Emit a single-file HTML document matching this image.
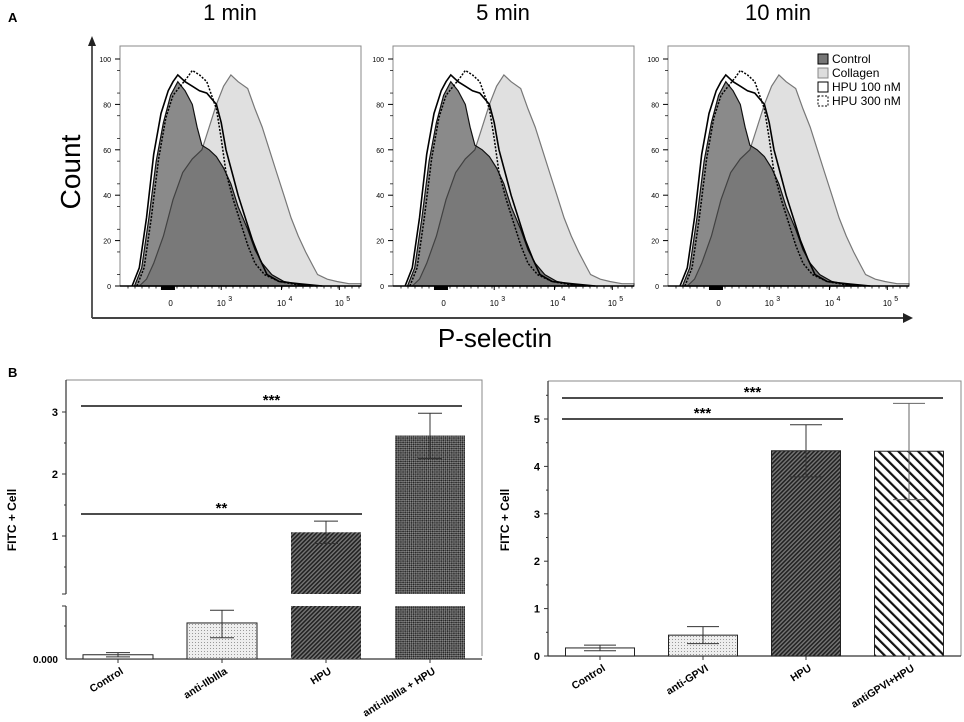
<!DOCTYPE html>
<html><head><meta charset="utf-8">
<style>
html,body{margin:0;padding:0;background:#fff;}
svg{display:block;font-family:"Liberation Sans",Arial,sans-serif;}
</style></head>
<body>
<svg id="fig" width="964" height="722" viewBox="0 0 964 722" xmlns="http://www.w3.org/2000/svg">
<defs>
<pattern id="dots" width="3" height="3" patternUnits="userSpaceOnUse"><rect width="3" height="3" fill="#eee"/><rect width="1" height="1" fill="#999"/></pattern>
<pattern id="dense" width="3" height="3" patternUnits="userSpaceOnUse" patternTransform="rotate(45)"><rect width="3" height="3" fill="#777"/><rect width="1.6" height="3" fill="#222"/></pattern>
<pattern id="check" width="3" height="3" patternUnits="userSpaceOnUse" patternTransform="rotate(45)"><rect width="3" height="3" fill="#888"/><rect width="1.5" height="1.5" fill="#222"/><rect x="1.5" y="1.5" width="1.5" height="1.5" fill="#333"/></pattern>
<pattern id="sparse" width="7" height="7" patternUnits="userSpaceOnUse" patternTransform="rotate(-45)"><rect width="7" height="7" fill="#fff"/><rect width="2.2" height="7" fill="#111"/></pattern>
</defs>
<g id="panelA"></g>
<g id="panelB"></g>
</svg>
<script>
// ---------- Panel A data (x = fraction of plot width on logicle scale, y = count) ----------
const timeTitles = ["1 min","5 min","10 min"];
const xTickLabels = ["0","10","10","10"];
const xTickExps = ["","3","4","5"];
const xTickPos = [0.21,0.42,0.67,0.91];
const yTicksA = [0,20,40,60,80,100];
const controlX = [0.06,0.09,0.12,0.15,0.18,0.21,0.24,0.27,0.30,0.32,0.34,0.37,0.40,0.43,0.46,0.49,0.53,0.56,0.59,0.63,0.68,0.75,0.80];
const controlY = [0,8,30,55,72,84,90,86,80,70,62,60,57,52,45,35,25,16,10,5,2,0.5,0];
const collagenX = [0.08,0.11,0.14,0.18,0.22,0.26,0.30,0.34,0.37,0.40,0.43,0.46,0.49,0.53,0.56,0.59,0.62,0.65,0.68,0.71,0.74,0.77,0.80,0.82,0.86,0.90,0.95,1.0];
const collagenY = [0,3,10,22,38,50,56,60,70,80,88,93,90,87,78,70,60,50,40,30,22,15,9,5,3,2,1,1];
const hpu100X = [0.05,0.08,0.11,0.14,0.17,0.20,0.22,0.24,0.27,0.30,0.33,0.36,0.40,0.42,0.44,0.47,0.49,0.52,0.55,0.58,0.61,0.66,0.74,0.84];
const hpu100Y = [0,8,30,58,76,86,90,93,90,88,86,85,80,72,60,48,40,30,20,12,5,2,1,0];
const hpu300X = [0.07,0.10,0.13,0.16,0.19,0.22,0.25,0.28,0.30,0.33,0.36,0.40,0.42,0.44,0.47,0.50,0.53,0.56,0.60,0.66,0.74,0.82];
const hpu300Y = [0,8,30,56,74,84,88,92,95,93,90,78,65,50,38,28,18,10,5,2,0.5,0];

const NS="http://www.w3.org/2000/svg";
function el(tag,attrs,parent){const e=document.createElementNS(NS,tag);for(const k in attrs)e.setAttribute(k,attrs[k]);parent.appendChild(e);return e;}

const A=document.getElementById('panelA');
const panelsX=[120,393,668], pw=241, pTop=46, pBot=286;
const letterA=el('text',{x:8,y:22,'font-size':13,'font-weight':'bold'},A);letterA.textContent='A';


const ya=el('line',{x1:92,y1:318,x2:92,y2:44,stroke:'#222','stroke-width':1.5},A);


el('path',{d:'M88,46 L92,36 L96,46 Z',fill:'#222'},A);
const xa=el('line',{x1:92,y1:318,x2:905,y2:318,stroke:'#444','stroke-width':2},A);


el('path',{d:'M903,313 L913,318 L903,323 Z',fill:'#222'},A);
const ct=el('text',{x:0,y:0,'font-size':28,'text-anchor':'middle',transform:'translate(80,172) rotate(-90)'},A);ct.textContent='Count';


const pt=el('text',{x:495,y:347,'font-size':26,'text-anchor':'middle'},A);pt.textContent='P-selectin';



function pathFor(xs,ys,x0,sy,closed){
  let d='';
  xs.forEach((x,i)=>{d+=(i?'L':'M')+(x0+x*pw).toFixed(1)+','+sy(ys[i]).toFixed(1);});
  if(closed)d+='L'+(x0+xs[xs.length-1]*pw).toFixed(1)+','+pBot+'L'+(x0+xs[0]*pw).toFixed(1)+','+pBot+'Z';
  return d;
}
panelsX.forEach((x0,p)=>{
  const g=el('g',{},A);
  
  
  const sy=v=>pBot-(v/100)*(pBot-59);
  const t=el('text',{x:x0+110,y:20,'font-size':22,'text-anchor':'middle'},g);t.textContent=timeTitles[p];
  
  
  el('rect',{x:x0,y:pTop,width:pw,height:pBot-pTop,fill:'#fff',stroke:'#888','stroke-width':1},g);
  const cf=el('path',{d:pathFor(controlX,controlY,x0,sy,true),fill:'#8a8a8a',stroke:'#111','stroke-width':1.2},g);
  
  
  const cl=el('path',{d:pathFor(collagenX,collagenY,x0,sy,true),fill:'#e0e0e0',stroke:'#777','stroke-width':1.2,style:'mix-blend-mode:multiply'},g);
  
  
  const h1=el('path',{d:pathFor(hpu100X,hpu100Y,x0,sy,false),fill:'none',stroke:'#000','stroke-width':1.6},g);
  
  
  const h3=el('path',{d:pathFor(hpu300X,hpu300Y,x0,sy,false),fill:'none',stroke:'#000','stroke-width':1.5,'stroke-dasharray':'2,1.5'},g);
  
  
  el('line',{x1:x0,y1:pBot,x2:x0+pw,y2:pBot,stroke:'#000','stroke-width':1.4},g);
  yTicksA.forEach(v=>{
    el('line',{x1:x0-5,y1:sy(v),x2:x0,y2:sy(v),stroke:'#000'},g);
    const tl=el('text',{x:x0-9,y:sy(v)+3,'font-size':7,'text-anchor':'end'},g);tl.textContent=v;
    
    
  });
  for(let v=5;v<100;v+=10)el('line',{x1:x0-3,y1:sy(v),x2:x0,y2:sy(v),stroke:'#000','stroke-width':0.7},g);
  xTickPos.forEach((f,i)=>{
    const xx=x0+f*pw;
    el('line',{x1:xx,y1:pBot,x2:xx,y2:pBot+4,stroke:'#000'},g);
    const tl=el('text',{x:xx,y:pBot+20,'font-size':8,'text-anchor':'middle'},g);tl.textContent=xTickLabels[i];
    
    
    if(xTickExps[i]){const s=el('text',{x:xx+7,y:pBot+15,'font-size':7},g);s.textContent=xTickExps[i];
      
      }
  });
  for(let k=0;k<34;k++){const xx=x0+8+k*7;el('line',{x1:xx,y1:pBot,x2:xx,y2:pBot+2.5,stroke:'#000','stroke-width':0.8},g);}
  el('rect',{x:x0+0.17*pw,y:pBot,width:14,height:4,fill:'#000'},g);
  if(p===2){
    const lg=el('g',{},g);
    
    
    const items=[['Control','#777','none'],['Collagen','#ddd','none'],['HPU 100 nM','#fff','none'],['HPU 300 nM','#fff','2,1.5']];
    items.forEach((it,i)=>{
      const y=53+i*14;
      el('rect',{x:818,y:y+1,width:10,height:10,fill:it[1],stroke:it[1]==='#ddd'?'#888':'#000','stroke-width':1,'stroke-dasharray':it[2]},lg);
      const tx=el('text',{x:832,y:y+10,'font-size':12},lg);tx.textContent=it[0];
      
      
    });
  }
});

// ---------- Panel B data ----------
const catsL = ["Control","anti-IIbIIIa","HPU","anti-IIbIIIa + HPU"];
const valsL = [0.02,0.17,1.06,2.62];
const errHiL = [0.03,0.23,1.24,2.98];
const errLoL = [0.01,0.10,0.88,2.25];
const yTicksLUpper = [1,2,3];
const catsR = ["Control","anti-GPVI","HPU","antiGPVI+HPU"];
const valsR = [0.17,0.44,4.33,4.32];
const errHiR = [0.23,0.62,4.88,5.33];
const errLoR = [0.11,0.26,3.78,3.30];
const yTicksR = [0,1,2,3,4,5];
const fillsL = ['#fff','url(#dots)','url(#dense)','url(#check)'];
const fillsR = ['#fff','url(#dots)','url(#dense)','url(#sparse)'];

const B=document.getElementById('panelB');
const lb=el('text',{x:8,y:377,'font-size':13,'font-weight':'bold'},B);lb.textContent='B';



const L=el('g',{},B);


const axL=66, baseL=659, lowTop=606, upBot=594;
const syLow=v=>baseL-(v/0.25)*(baseL-lowTop);
const syUp=v=>598-v*62;
const cxL=i=>118+i*104;
el('polyline',{points:`${axL},380 482,380 482,656`,fill:'none',stroke:'#888','stroke-width':1},L);
el('line',{x1:axL,y1:380,x2:axL,y2:upBot,stroke:'#333','stroke-width':1.2},L);
el('line',{x1:axL,y1:lowTop,x2:axL,y2:baseL,stroke:'#333','stroke-width':1.2},L);
el('line',{x1:axL,y1:baseL,x2:482,y2:baseL,stroke:'#333','stroke-width':1.2},L);
yTicksLUpper.forEach(v=>{
  el('line',{x1:axL-4,y1:syUp(v),x2:axL,y2:syUp(v),stroke:'#333'},L);
  const t=el('text',{x:axL-8,y:syUp(v)+4,'font-size':11,'font-weight':'bold','text-anchor':'end'},L);t.textContent=v;
  
  
});
[0.5,1.5,2.5].forEach(v=>el('line',{x1:axL-2,y1:syUp(v),x2:axL,y2:syUp(v),stroke:'#333'},L));
el('line',{x1:axL-4,y1:upBot,x2:axL,y2:upBot,stroke:'#333'},L);
el('line',{x1:axL-4,y1:lowTop,x2:axL,y2:lowTop,stroke:'#333'},L);
el('line',{x1:axL-2,y1:626,x2:axL,y2:626,stroke:'#333'},L);
const z=el('text',{x:axL-8,y:baseL+4,'font-size':10,'font-weight':'bold','text-anchor':'end'},L);z.textContent='0.000';


const yl=el('text',{x:0,y:0,'font-size':12,'font-weight':'bold','text-anchor':'middle',transform:'translate(16,520) rotate(-90)'},L);yl.textContent='FITC + Cell';


valsL.forEach((v,i)=>{
  const cx=cxL(i), w=70;
  if(v<=0.25){
    const r=el('rect',{x:cx-w/2,y:syLow(v),width:w,height:baseL-syLow(v),fill:fillsL[i],stroke:'#222','stroke-width':1},L);
    
    
    el('line',{x1:cx,y1:syLow(errHiL[i]),x2:cx,y2:syLow(errLoL[i]),stroke:'#333'},L);
    el('line',{x1:cx-12,y1:syLow(errHiL[i]),x2:cx+12,y2:syLow(errHiL[i]),stroke:'#333'},L);
    el('line',{x1:cx-12,y1:syLow(errLoL[i]),x2:cx+12,y2:syLow(errLoL[i]),stroke:'#333'},L);
  } else {
    const r=el('rect',{x:cx-w/2,y:syUp(v),width:w,height:upBot-syUp(v),fill:fillsL[i]},L);
    
    
    const r2=el('rect',{x:cx-w/2,y:lowTop,width:w,height:baseL-lowTop,fill:fillsL[i]},L);
    
    
    el('line',{x1:cx,y1:syUp(errHiL[i]),x2:cx,y2:syUp(errLoL[i]),stroke:'#333'},L);
    el('line',{x1:cx-12,y1:syUp(errHiL[i]),x2:cx+12,y2:syUp(errHiL[i]),stroke:'#333'},L);
    el('line',{x1:cx-12,y1:syUp(errLoL[i]),x2:cx+12,y2:syUp(errLoL[i]),stroke:'#333'},L);
  }
  el('line',{x1:cx,y1:baseL,x2:cx,y2:baseL+4,stroke:'#333'},L);
  const t=el('text',{x:0,y:0,'font-size':10.5,'font-weight':'bold','text-anchor':'end',transform:`translate(${cx+6},${baseL+14}) rotate(-32)`},L);t.textContent=catsL[i];
  
  
});
function sig(parent,x1,x2,y,stars){
  const l=el('line',{x1:x1,y1:y,x2:x2,y2:y,stroke:'#111','stroke-width':1.5},parent);
  
  
  const t=el('text',{x:(x1+x2)/2,y:y-1,'font-size':15,'font-weight':'bold','text-anchor':'middle'},parent);t.textContent=stars;
  
  
}
sig(L,81,462,406,'***');
sig(L,81,362,514,'**');

const R=el('g',{},B);


const axR=548, baseR=656;
const syR=v=>baseR-v*47.4;
const cxR=i=>600+i*103;
el('polyline',{points:`${axR},381 961,381 961,656`,fill:'none',stroke:'#888','stroke-width':1},R);
el('line',{x1:axR,y1:381,x2:axR,y2:baseR,stroke:'#333','stroke-width':1.2},R);
el('line',{x1:axR,y1:baseR,x2:961,y2:baseR,stroke:'#333','stroke-width':1.2},R);
yTicksR.forEach(v=>{
  el('line',{x1:axR-4,y1:syR(v),x2:axR,y2:syR(v),stroke:'#333'},R);
  el('line',{x1:axR-2,y1:syR(v+0.5),x2:axR,y2:syR(v+0.5),stroke:'#333'},R);
  const t=el('text',{x:axR-8,y:syR(v)+4,'font-size':11,'font-weight':'bold','text-anchor':'end'},R);t.textContent=v;
  
  
});
const yr=el('text',{x:0,y:0,'font-size':12,'font-weight':'bold','text-anchor':'middle',transform:'translate(509,520) rotate(-90)'},R);yr.textContent='FITC + Cell';


valsR.forEach((v,i)=>{
  const cx=cxR(i), w=69;
  const r=el('rect',{x:cx-w/2,y:syR(v),width:w,height:baseR-syR(v),fill:fillsR[i],stroke:'#222','stroke-width':1},R);
  
  
  const col=i===3?'#666':'#333';
  el('line',{x1:cx,y1:syR(errHiR[i]),x2:cx,y2:syR(errLoR[i]),stroke:col},R);
  el('line',{x1:cx-16,y1:syR(errHiR[i]),x2:cx+16,y2:syR(errHiR[i]),stroke:col},R);
  el('line',{x1:cx-16,y1:syR(errLoR[i]),x2:cx+16,y2:syR(errLoR[i]),stroke:col},R);
  el('line',{x1:cx,y1:baseR,x2:cx,y2:baseR+4,stroke:'#333'},R);
  const t=el('text',{x:0,y:0,'font-size':10.5,'font-weight':'bold','text-anchor':'end',transform:`translate(${cx+6},${baseR+14}) rotate(-32)`},R);t.textContent=catsR[i];
  
  
});
sig(R,562,943,398,'***');
sig(R,562,843,419,'***');
</script>
</body></html>
